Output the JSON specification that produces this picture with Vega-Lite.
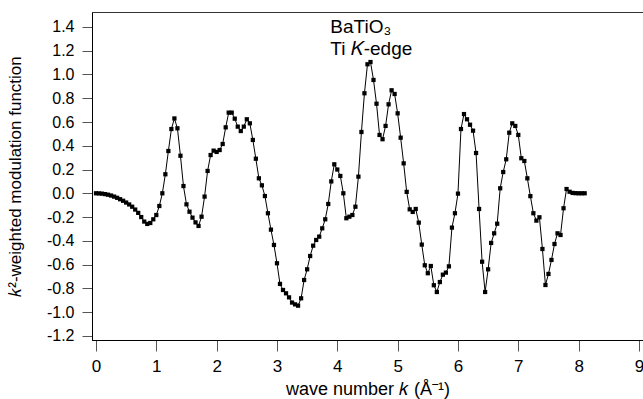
{
  "$schema": "https://vega.github.io/schema/vega-lite/v6.json",
  "width": 551,
  "height": 328,
  "autosize": {"type": "none"},
  "padding": {"left": 92, "top": 12, "right": 0, "bottom": 59},
  "background": "white",
  "config": {
    "font": "Liberation Sans",
    "view": {"stroke": "#333333", "strokeWidth": 1},
    "axis": {"grid": false, "domainColor": "#000000", "tickColor": "#555555", "labelColor": "#000000", "titleColor": "#000000", "titleFontWeight": "normal", "labelFont": "Liberation Sans", "titleFont": "Liberation Sans"}
  },
  "datasets": {
    "spectrum": [
      {"k":0.00,"m":0.000},{"k":0.05,"m":-0.001},{"k":0.10,"m":-0.003},{"k":0.15,"m":-0.007},{"k":0.20,"m":-0.012},
      {"k":0.25,"m":-0.019},{"k":0.30,"m":-0.028},{"k":0.35,"m":-0.038},{"k":0.40,"m":-0.050},{"k":0.45,"m":-0.063},
      {"k":0.50,"m":-0.078},{"k":0.55,"m":-0.094},{"k":0.60,"m":-0.113},{"k":0.65,"m":-0.137},{"k":0.70,"m":-0.165},
      {"k":0.75,"m":-0.200},{"k":0.80,"m":-0.238},{"k":0.85,"m":-0.258},{"k":0.90,"m":-0.250},{"k":0.95,"m":-0.219},
      {"k":1.00,"m":-0.183},{"k":1.05,"m":-0.107},{"k":1.10,"m":0.000},{"k":1.15,"m":0.160},{"k":1.20,"m":0.356},
      {"k":1.25,"m":0.541},{"k":1.30,"m":0.630},{"k":1.35,"m":0.547},{"k":1.40,"m":0.316},{"k":1.45,"m":0.061},
      {"k":1.50,"m":-0.093},{"k":1.55,"m":-0.155},{"k":1.60,"m":-0.205},{"k":1.65,"m":-0.245},{"k":1.70,"m":-0.275},
      {"k":1.75,"m":-0.197},{"k":1.80,"m":-0.028},{"k":1.85,"m":0.188},{"k":1.90,"m":0.322},{"k":1.95,"m":0.359},
      {"k":2.00,"m":0.348},{"k":2.05,"m":0.364},{"k":2.10,"m":0.415},{"k":2.15,"m":0.555},{"k":2.20,"m":0.679},
      {"k":2.25,"m":0.679},{"k":2.30,"m":0.628},{"k":2.35,"m":0.561},{"k":2.40,"m":0.524},{"k":2.45,"m":0.561},
      {"k":2.50,"m":0.623},{"k":2.55,"m":0.589},{"k":2.60,"m":0.449},{"k":2.65,"m":0.291},{"k":2.70,"m":0.126},
      {"k":2.75,"m":0.067},{"k":2.80,"m":-0.023},{"k":2.85,"m":-0.168},{"k":2.90,"m":-0.306},{"k":2.95,"m":-0.435},
      {"k":3.00,"m":-0.589},{"k":3.05,"m":-0.763},{"k":3.10,"m":-0.814},{"k":3.15,"m":-0.842},{"k":3.20,"m":-0.876},
      {"k":3.25,"m":-0.920},{"k":3.30,"m":-0.935},{"k":3.35,"m":-0.946},{"k":3.40,"m":-0.884},{"k":3.45,"m":-0.730},
      {"k":3.50,"m":-0.640},{"k":3.55,"m":-0.528},{"k":3.60,"m":-0.441},{"k":3.65,"m":-0.393},{"k":3.70,"m":-0.365},
      {"k":3.75,"m":-0.295},{"k":3.80,"m":-0.219},{"k":3.85,"m":-0.090},{"k":3.90,"m":0.100},{"k":3.95,"m":0.244},
      {"k":4.00,"m":0.200},{"k":4.05,"m":0.146},{"k":4.10,"m":0.000},{"k":4.15,"m":-0.210},{"k":4.20,"m":-0.197},
      {"k":4.25,"m":-0.183},{"k":4.30,"m":-0.113},{"k":4.35,"m":0.140},{"k":4.40,"m":0.516},{"k":4.45,"m":0.842},
      {"k":4.50,"m":1.086},{"k":4.55,"m":1.105},{"k":4.60,"m":0.954},{"k":4.65,"m":0.754},{"k":4.70,"m":0.491},
      {"k":4.75,"m":0.455},{"k":4.80,"m":0.567},{"k":4.85,"m":0.749},{"k":4.90,"m":0.867},{"k":4.95,"m":0.836},
      {"k":5.00,"m":0.673},{"k":5.05,"m":0.468},{"k":5.10,"m":0.252},{"k":5.15,"m":0.012},{"k":5.20,"m":-0.135},
      {"k":5.25,"m":-0.157},{"k":5.30,"m":-0.132},{"k":5.35,"m":-0.247},{"k":5.40,"m":-0.432},{"k":5.45,"m":-0.606},
      {"k":5.50,"m":-0.673},{"k":5.55,"m":-0.612},{"k":5.60,"m":-0.774},{"k":5.65,"m":-0.831},{"k":5.70,"m":-0.747},
      {"k":5.75,"m":-0.685},{"k":5.80,"m":-0.668},{"k":5.85,"m":-0.615},{"k":5.90,"m":-0.289},{"k":5.95,"m":-0.168},
      {"k":6.00,"m":-0.003},{"k":6.05,"m":0.541},{"k":6.10,"m":0.667},{"k":6.15,"m":0.623},{"k":6.20,"m":0.577},
      {"k":6.25,"m":0.527},{"k":6.30,"m":0.339},{"k":6.35,"m":-0.132},{"k":6.40,"m":-0.576},{"k":6.45,"m":-0.831},
      {"k":6.50,"m":-0.640},{"k":6.55,"m":-0.418},{"k":6.60,"m":-0.337},{"k":6.65,"m":-0.256},{"k":6.70,"m":0.042},
      {"k":6.75,"m":0.179},{"k":6.80,"m":0.286},{"k":6.85,"m":0.510},{"k":6.90,"m":0.589},{"k":6.95,"m":0.567},
      {"k":7.00,"m":0.491},{"k":7.05,"m":0.295},{"k":7.10,"m":0.272},{"k":7.15,"m":0.126},{"k":7.20,"m":-0.024},
      {"k":7.25,"m":-0.168},{"k":7.30,"m":-0.230},{"k":7.35,"m":-0.202},{"k":7.40,"m":-0.469},{"k":7.45,"m":-0.772},
      {"k":7.50,"m":-0.679},{"k":7.55,"m":-0.561},{"k":7.60,"m":-0.427},{"k":7.65,"m":-0.337},{"k":7.70,"m":-0.351},
      {"k":7.75,"m":-0.126},{"k":7.80,"m":0.036},{"k":7.85,"m":0.013},{"k":7.90,"m":0.003},{"k":7.95,"m":0.001},
      {"k":8.00,"m":0.000},{"k":8.05,"m":0.000},{"k":8.10,"m":0.000}
    ],
    "notes": [
      {"k":3.884,"m":1.352,"label":"BaTiO₃"},
      {"k":3.884,"m":1.164,"label":"Ti 𝐾-edge"}
    ]
  },
  "encoding": {
    "x": {"field": "k", "type": "quantitative",
      "scale": {"domain": [-0.066, 9.067], "nice": false, "zero": false},
      "axis": {"title": "wave number 𝑘 (Å⁻¹)", "values": [0,1,2,3,4,5,6,7,8,9], "format": "d",
        "tickSize": 11, "labelPadding": 7, "labelFontSize": 17, "titleFontSize": 18, "titlePadding": 6, "labelFlush": false}},
    "y": {"field": "m", "type": "quantitative",
      "scale": {"domain": [-1.235, 1.526], "nice": false, "zero": false},
      "axis": {"title": "𝑘²-weighted modulation function",
        "values": [-1.2,-1.0,-0.8,-0.6,-0.4,-0.2,0,0.2,0.4,0.6,0.8,1.0,1.2,1.4],
        "labelExpr": "replace(format(datum.value, '.1f'), '−', '-')",
        "tickSize": 10, "labelPadding": 8, "labelFontSize": 16, "titleFontSize": 17, "titlePadding": 22, "labelFlush": false}}
  },
  "layer": [
    {
      "mark": {"type": "rule", "color": "#6e6e6e", "strokeWidth": 1.2},
      "encoding": {"y": {"datum": 0}, "x": {"value": 0}, "x2": {"value": 551}}
    },
    {
      "data": {"name": "spectrum"},
      "mark": {"type": "line", "color": "#000000", "strokeWidth": 1,
        "point": {"shape": "square", "size": 18, "filled": true, "color": "#000000", "opacity": 1}}
    },
    {
      "data": {"name": "notes"},
      "mark": {"type": "text", "align": "left", "baseline": "alphabetic", "fontSize": 19, "color": "#000000"},
      "encoding": {"text": {"field": "label"}}
    }
  ]
}
